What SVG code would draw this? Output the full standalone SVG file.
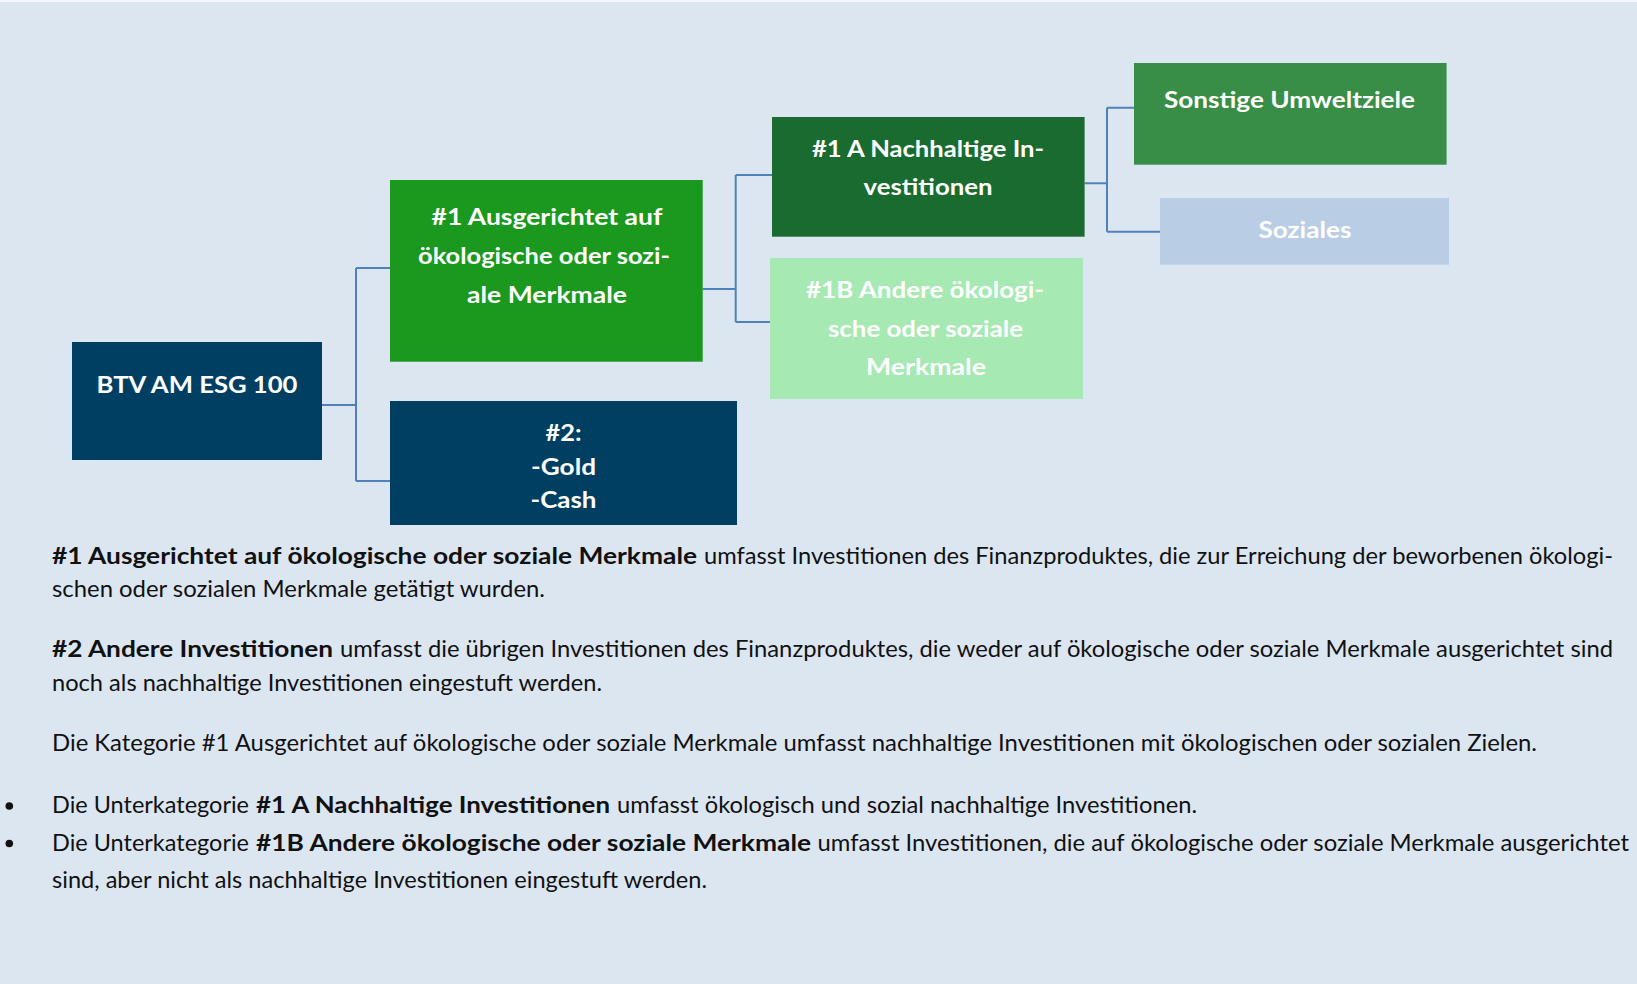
<svg xmlns="http://www.w3.org/2000/svg" width="1637" height="984" viewBox="0 0 1637 984">
<style>
.bx{font-family:Lato,"Open Sans","Liberation Sans",sans-serif;font-weight:700;fill:#ffffff;text-anchor:middle;font-size:22px}
.body{font-family:Lato,"Open Sans","Liberation Sans",sans-serif;font-size:23px;fill:#111111}
.b{font-weight:700}
.con{fill:none;stroke:#4f81bd;stroke-width:2}
</style>
<rect x="0" y="0" width="1637" height="984" fill="#dce6f1"/>
<rect x="0" y="0" width="1637" height="2" fill="#f4f7fb"/>
<g id="connectors">
<path class="con" d="M322 405 H356 M356 268 V481 M356 268 H390 M356 481 H390"/>
<path class="con" d="M702.7 289 H735.7 M735.7 175 V322 M735.7 175 H772 M735.7 322 H770"/>
<path class="con" d="M1084.6 183.3 H1107 M1107 107.7 V231.7 M1107 107.7 H1134 M1107 231.7 H1160"/>
</g>
<g id="btv">
<rect x="72" y="342" width="250" height="118" fill="#013f62"/>
<text class="bx" x="197" y="393" font-size="23" textLength="201" lengthAdjust="spacingAndGlyphs">BTV AM ESG 100</text>
</g>
<g id="n1">
<rect x="390" y="180" width="312.7" height="181.7" fill="#1b981e"/>
<text class="bx" x="547" y="225" textLength="231" lengthAdjust="spacingAndGlyphs">#1 Ausgerichtet auf</text>
<text class="bx" x="544" y="264" textLength="252" lengthAdjust="spacingAndGlyphs">ökologische oder sozi-</text>
<text class="bx" x="547" y="303" textLength="160" lengthAdjust="spacingAndGlyphs">ale Merkmale</text>
</g>
<g id="n2">
<rect x="390" y="401" width="347" height="124" fill="#013f62"/>
<text class="bx" x="563.5" y="441" textLength="36" lengthAdjust="spacingAndGlyphs">#2:</text>
<text class="bx" x="563.5" y="475" textLength="65" lengthAdjust="spacingAndGlyphs">-Gold</text>
<text class="bx" x="563.5" y="508" textLength="66" lengthAdjust="spacingAndGlyphs">-Cash</text>
</g>
<g id="n1a">
<rect x="772" y="117" width="312.6" height="119.7" fill="#1a6b2f"/>
<text class="bx" x="928" y="157" textLength="232" lengthAdjust="spacingAndGlyphs">#1 A Nachhaltige In-</text>
<text class="bx" x="928" y="195" textLength="129" lengthAdjust="spacingAndGlyphs">vestitionen</text>
</g>
<g id="n1b">
<rect x="770" y="258" width="313" height="141" fill="#a6e9b2"/>
<text class="bx" x="925" y="298" textLength="238" lengthAdjust="spacingAndGlyphs">#1B Andere ökologi-</text>
<text class="bx" x="925.5" y="337" textLength="195" lengthAdjust="spacingAndGlyphs">sche oder soziale</text>
<text class="bx" x="926" y="375" textLength="120" lengthAdjust="spacingAndGlyphs">Merkmale</text>
</g>
<g id="sonstige">
<rect x="1134" y="63" width="312.6" height="101.7" fill="#388e46"/>
<text class="bx" x="1289.5" y="108" textLength="251" lengthAdjust="spacingAndGlyphs">Sonstige Umweltziele</text>
</g>
<g id="soziales">
<rect x="1160" y="198" width="289" height="66.7" fill="#b9cde5"/>
<text class="bx" x="1305" y="238" textLength="93" lengthAdjust="spacingAndGlyphs">Soziales</text>
</g>
<g id="legend">
<text class="body b" x="52" y="564" textLength="645" lengthAdjust="spacingAndGlyphs">#1 Ausgerichtet auf ökologische oder soziale Merkmale</text>
<text class="body" x="704" y="564" textLength="909" lengthAdjust="spacingAndGlyphs">umfasst Investitionen des Finanzproduktes, die zur Erreichung der beworbenen ökologi-</text>
<text class="body" x="52" y="597" textLength="493" lengthAdjust="spacingAndGlyphs">schen oder sozialen Merkmale getätigt wurden.</text>
<text class="body b" x="52" y="657" textLength="281" lengthAdjust="spacingAndGlyphs">#2 Andere Investitionen</text>
<text class="body" x="340" y="657" textLength="1273" lengthAdjust="spacingAndGlyphs">umfasst die übrigen Investitionen des Finanzproduktes, die weder auf ökologische oder soziale Merkmale ausgerichtet sind</text>
<text class="body" x="52" y="690.5" textLength="550" lengthAdjust="spacingAndGlyphs">noch als nachhaltige Investitionen eingestuft werden.</text>
<text class="body" x="52" y="750.5" textLength="1485" lengthAdjust="spacingAndGlyphs">Die Kategorie #1 Ausgerichtet auf ökologische oder soziale Merkmale umfasst nachhaltige Investitionen mit ökologischen oder sozialen Zielen.</text>
<circle cx="9.3" cy="806" r="3.8" fill="#111111"/>
<text class="body" x="52" y="813" textLength="197" lengthAdjust="spacingAndGlyphs">Die Unterkategorie</text>
<text class="body b" x="256" y="813" textLength="354" lengthAdjust="spacingAndGlyphs">#1 A Nachhaltige Investitionen</text>
<text class="body" x="617" y="813" textLength="580" lengthAdjust="spacingAndGlyphs">umfasst ökologisch und sozial nachhaltige Investitionen.</text>
<circle cx="9.3" cy="843.5" r="3.8" fill="#111111"/>
<text class="body" x="52" y="850.5" textLength="197" lengthAdjust="spacingAndGlyphs">Die Unterkategorie</text>
<text class="body b" x="256" y="850.5" textLength="555" lengthAdjust="spacingAndGlyphs">#1B Andere ökologische oder soziale Merkmale</text>
<text class="body" x="817.5" y="850.5" textLength="811.5" lengthAdjust="spacingAndGlyphs">umfasst Investitionen, die auf ökologische oder soziale Merkmale ausgerichtet</text>
<text class="body" x="52" y="888" textLength="655" lengthAdjust="spacingAndGlyphs">sind, aber nicht als nachhaltige Investitionen eingestuft werden.</text>
</g>
</svg>
